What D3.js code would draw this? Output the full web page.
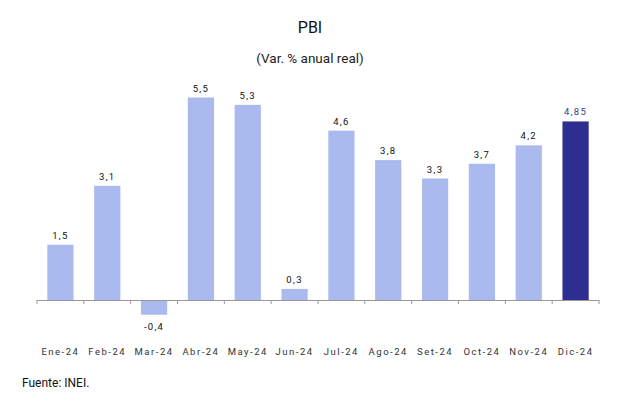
<!DOCTYPE html>
<html><head><meta charset="utf-8">
<script src="https://cdn.jsdelivr.net/npm/d3@7"></script>
<style>body{margin:0;background:#fff;font-family:Roboto,"Noto Sans",sans-serif;}</style>
</head><body>
<svg id="c" width="620" height="405"></svg>
<script>
const categories = ["Ene-24","Feb-24","Mar-24","Abr-24","May-24","Jun-24","Jul-24","Ago-24","Set-24","Oct-24","Nov-24","Dic-24"];
const values = [1.5,3.1,-0.4,5.5,5.3,0.3,4.6,3.8,3.3,3.7,4.2,4.85];
const valueLabels = ["1,5","3,1","-0,4","5,5","5,3","0,3","4,6","3,8","3,3","3,7","4,2","4,85"];
const highlight = ["Dic-24"];

const svg = d3.select("#c");
const x = d3.scaleBand().domain(categories).range([37, 599]).paddingInner(0.44).paddingOuter(0.22);
const y = d3.scaleLinear().domain([0, 5.5]).range([300, 97.5]);

svg.append("text").attr("x",310).attr("y",33).attr("text-anchor","middle")
  .attr("font-size",16).attr("font-weight",400).attr("fill","#111").text("PBI");
svg.append("text").attr("x",310).attr("y",63).attr("text-anchor","middle")
  .attr("font-size",13.5).attr("fill","#222").text("(Var. % anual real)");

svg.selectAll("rect.bar").data(categories).enter().append("rect")
  .attr("x",d=>x(d)).attr("width",x.bandwidth())
  .attr("y",(d,i)=>y(Math.max(0,values[i])))
  .attr("height",(d,i)=>Math.abs(y(values[i])-y(0)))
  .attr("fill",d=>highlight.includes(d)?"#2e2e90":"#abbaee");

const axis = d3.axisBottom(x).tickSize(4).tickFormat("");
const ax = svg.append("g").attr("transform",`translate(0,${y(0)})`).call(axis);
ax.select(".domain").attr("stroke","#999").attr("d","M37,0.5H599");
ax.selectAll(".tick").remove();
const bounds = d3.range(categories.length+1).map(i=>37+i*(562/categories.length));
ax.selectAll("line.b").data(bounds).enter().append("line")
  .attr("x1",d=>d).attr("x2",d=>d).attr("y1",0).attr("y2",4).attr("stroke","#999");

svg.selectAll("text.val").data(categories).enter().append("text")
  .attr("x",d=>x(d)+x.bandwidth()/2)
  .attr("y",(d,i)=>values[i]>=0 ? y(values[i])-6 : y(values[i])+15)
  .attr("text-anchor","middle").attr("font-size",9.5).attr("letter-spacing",1.3)
  .attr("fill",d=>highlight.includes(d)?"#3a3a80":"#111")
  .text((d,i)=>valueLabels[i]);

svg.selectAll("text.cat").data(categories).enter().append("text")
  .attr("x",d=>x(d)+x.bandwidth()/2).attr("y",355)
  .attr("text-anchor","middle").attr("font-size",9.5).attr("letter-spacing",1.5)
  .attr("fill","#333").text(d=>d);

svg.append("text").attr("x",22).attr("y",387).attr("font-size",12).attr("fill","#111").text("Fuente: INEI.");
</script>
</body></html>
